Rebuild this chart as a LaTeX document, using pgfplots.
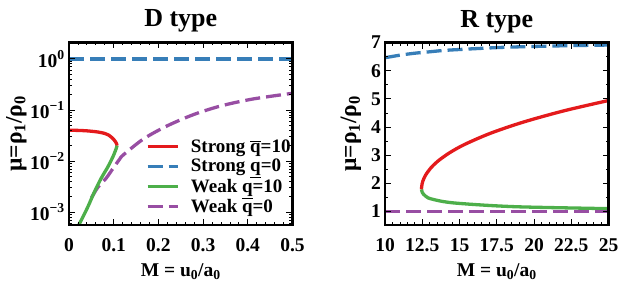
\documentclass[border=0pt]{standalone}
\usepackage{fontspec}
\setmainfont{Liberation Serif}
\usepackage{pgfplots}
\pgfplotsset{compat=1.18}
\definecolor{cred}{HTML}{E41A1C}
\definecolor{cblue}{HTML}{377EB8}
\definecolor{cgreen}{HTML}{4DAF4A}
\definecolor{cpurple}{HTML}{984EA3}
\newcommand{\ylabfont}{\fontsize{23.5}{23.5}\selectfont\bfseries}
\pgfplotsset{
  myax/.style={
    scale only axis, width=223.5pt, height=182.5pt,
    axis line style={line width=2.5pt, line cap=rect},
    axis on top,
    tick align=inside,
    major tick length=6pt, minor tick length=3pt,
    every tick/.style={black, line width=0.8pt},
    /pgf/number format/assume math mode=true,
    tick label style={font=\fontsize{19.5}{19.5}\selectfont\bfseries},
    title style={font=\fontsize{26}{26}\selectfont\bfseries, at={(axis description cs:0.5,1)}, anchor=base, yshift=9.5pt},
    every axis x label/.style={font=\fontsize{19.5}{19.5}\selectfont\bfseries, at={(axis description cs:0.5,0)}, anchor=base, yshift=-51.5pt},
    xticklabel style={anchor=base, yshift=-26pt},
    yticklabel style={anchor=east, inner sep=0pt, xshift=-4pt},
    every axis plot/.append style={line width=3.3pt},
  },
  dsh/.style={dash pattern=on 15pt off 6pt},
}
\begin{document}
\begin{tikzpicture}
\path[use as bounding box] (0,0) rectangle (640pt,282pt);
% ---------------- D type ----------------
\begin{axis}[myax, at={(69pt,57pt)}, anchor=south west,
  title={D type},
  xlabel={M = u\textsubscript{0}/a\textsubscript{0}},
  ylabel={μ=ρ\textsubscript{1}/ρ\textsubscript{0}},
  every axis y label/.style={font=\ylabfont, at={(axis description cs:-0.235,0.5)}, rotate=90, anchor=center},
  ymode=log, xmin=0, xmax=0.5, ymin=5.6e-4, ymax=2.09,
  xtick={0,0.1,0.2,0.3,0.4,0.5}, xticklabels={0,0.1,0.2,0.3,0.4,0.5},
  minor x tick num=4,
  ytick={1e-3,1e-2,1e-1,1},
  yticklabels={10\textsuperscript{−3},10\textsuperscript{−2},10\textsuperscript{−1},10\textsuperscript{0}},
  minor ytick={6e-4,7e-4,8e-4,9e-4,2e-3,3e-3,4e-3,5e-3,6e-3,7e-3,8e-3,9e-3,2e-2,3e-2,4e-2,5e-2,6e-2,7e-2,8e-2,9e-2,0.2,0.3,0.4,0.5,0.6,0.7,0.8,0.9,2},
  legend style={at={(rel axis cs:0.995,0.055)}, anchor=south east, draw=none, fill=none,
    font=\fontsize{19}{19}\selectfont\bfseries, inner sep=0pt, row sep=4.5pt,
    nodes={inner sep=0.6pt},
    /tikz/every odd column/.append style={column sep=11pt}},
  legend cell align=left,
  legend image code/.code={\draw[#1] (0pt,0pt) -- (30pt,0pt);},
]
\addplot[cred, smooth] coordinates {
(0,0.0400) (0.02,0.0398) (0.04,0.0390) (0.06,0.0375) (0.07,0.0363) (0.08,0.0347)
(0.088,0.0325) (0.096,0.0287) (0.100,0.0265) (0.104,0.0238) (0.1065,0.0218) (0.1075,0.0200)};
\addlegendentry{Strong $\overline{\mbox{q}}$=10}
\addplot[cblue, dsh] coordinates {(0,1) (0.5,1)};
\addlegendentry{Strong \underline{q}=0}
\addplot[cpurple, dsh, smooth, forget plot] coordinates {
(0.05,0.0019) (0.065,0.0031) (0.083,0.0046) (0.1,0.0075) (0.113,0.0108) (0.122,0.0133)
(0.167,0.0272) (0.22,0.049) (0.28,0.082) (0.34,0.120) (0.41,0.163) (0.5,0.212)};
\addplot[cgreen, smooth] coordinates {
(0.1075,0.0200) (0.1056,0.0176) (0.102,0.0145) (0.098,0.0120) (0.087,0.0077) (0.072,0.0046)
(0.057,0.0025) (0.042,0.00126) (0.029,0.00074) (0.022,0.00056) (0.018,0.00045)};
\addlegendentry{Weak \underline{q}=10}
\addlegendimage{cpurple, dsh, line width=3.3pt}
\addlegendentry{Weak q=0}
\end{axis}
% ---------------- R type ----------------
\begin{axis}[myax, at={(385pt,57pt)}, anchor=south west,
  title={R type},
  xlabel={M = u\textsubscript{0}/a\textsubscript{0}},
  ylabel={μ=ρ\textsubscript{1}/ρ\textsubscript{0}},
  every axis y label/.style={font=\ylabfont, at={(axis description cs:-0.153,0.5)}, rotate=90, anchor=center},
  xmin=10, xmax=25, ymin=0.52, ymax=7,
  xtick={10,12.5,15,17.5,20,22.5,25}, xticklabels={10,12.5,15,17.5,20,22.5,25},
  minor x tick num=4,
  ytick={1,2,3,4,5,6,7}, yticklabels={1,2,3,4,5,6,7},
  minor y tick num=1,
]
\addplot[cblue, dsh, smooth] coordinates {
(10,6.46) (11,6.55) (12,6.62) (13,6.67) (14,6.72) (16,6.78) (18,6.83) (20,6.86) (22.5,6.89) (25,6.91)};
\addplot[cred, smooth] coordinates {
(12.45,1.78) (12.46,1.88) (12.49,1.98) (12.54,2.08) (12.71,2.28) (13.05,2.53) (13.53,2.78)
(14.32,3.08) (15.34,3.38) (17.09,3.78) (19.32,4.18) (22.05,4.58) (25,4.94)};
\addplot[cgreen, smooth] coordinates {
(12.45,1.78) (12.50,1.68) (12.59,1.61) (12.71,1.55) (12.9,1.48) (13.3,1.42) (13.82,1.36)
(14.5,1.31) (15.4,1.27) (16.5,1.23) (17.65,1.195) (19,1.165) (21,1.14) (23,1.12) (25,1.10)};
\addplot[cpurple, dsh] coordinates {(10,1) (25,1)};
\end{axis}
\end{tikzpicture}
\end{document}
